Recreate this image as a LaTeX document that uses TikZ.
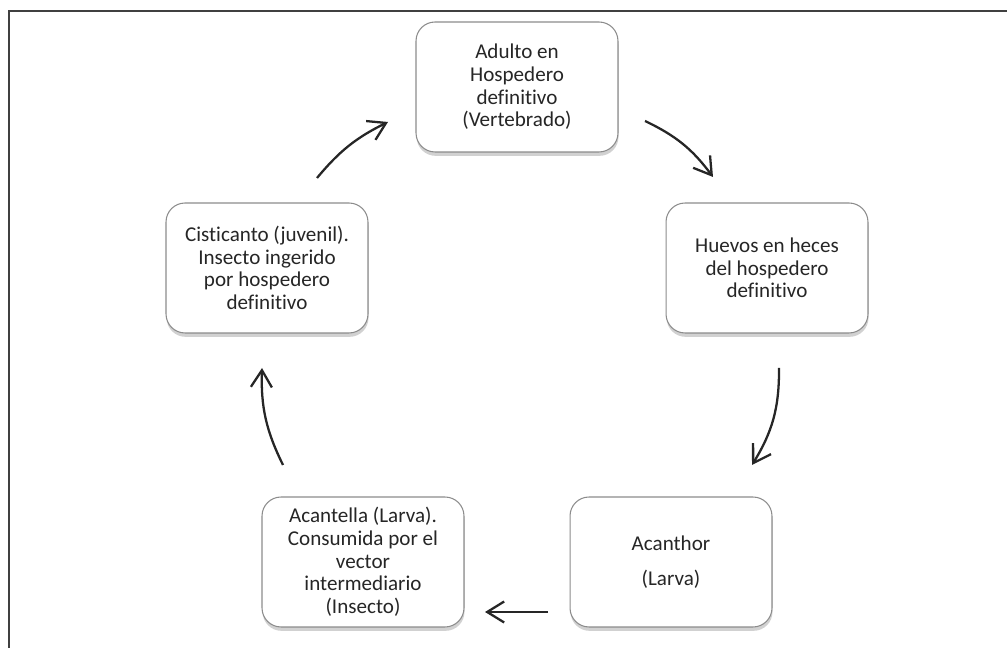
\documentclass[tikz,border=0pt]{standalone}
\usepackage{fontspec}
\setmainfont{Carlito}[Ligatures=NoCommon]
\usepackage{tikz}
\usetikzlibrary{positioning,arrows.meta,shadows}

\begin{document}
\begin{tikzpicture}[
    x=0.02cm, y=0.02cm,
    stage/.style={draw=black!45, line width=0.6pt, rounded corners=0.38cm, fill=white,
                  minimum width=4.04cm, minimum height=2.6cm, align=center,
                  text=black!85, font=\fontsize{12}{12.9}\selectfont,
                  drop shadow={shadow xshift=0.3pt, shadow yshift=-2.2pt, opacity=0.3, fill=black!60}},
    arr/.style={-{Straight Barb[length=3.4mm, width=4.2mm]}, line width=1.3pt, black!85},
  ]
  \useasboundingbox (0,0) rectangle (1007,648);
  % frame (only top and left edge inside the picture)
  \draw[line width=1.2pt, black!75] (9,0) -- (9,637) -- (1007,637);

  % the five stages of the cycle
  \node[stage] (adulto)    at (517,561) {Adulto en\\Hospedero\\definitivo\\(Vertebrado)};
  \node[stage] (huevos)    at (767,380) {Huevos en heces\\del hospedero\\definitivo};
  \node[stage] (acanthor)  at (671,86)  {Acanthor\\[7pt](Larva)};
  \node[stage] (acantella) at (363,86)  {Acantella (Larva).\\Consumida por el\\vector\\intermediario\\(Insecto)};
  \node[stage] (cist)      at (267,380) {Cisticanto (juvenil).\\Insecto ingerido\\por hospedero\\definitivo};

  % arrow ends, free between the boxes
  \coordinate (c1s) at (317,470); \coordinate (c1e) at (388,526);
  \coordinate (c2s) at (645,527); \coordinate (c2e) at (713,471);
  \coordinate (c3s) at (779,280); \coordinate (c3e) at (752,183);
  \coordinate (c4s) at (548,36);  \coordinate (c4e) at (485,36);
  \coordinate (c5s) at (283,183); \coordinate (c5e) at (262,280);

  \draw[arr] (c1s) to[bend left=12] (c1e);
  \draw[arr] (c2s) to[bend left=14] (c2e);
  \draw[arr] (c3s) to[bend left=16] (c3e);
  \draw[arr] (c4s) -- (c4e);
  \draw[arr] (c5s) to[bend left=14] (c5e);
\end{tikzpicture}
\end{document}
